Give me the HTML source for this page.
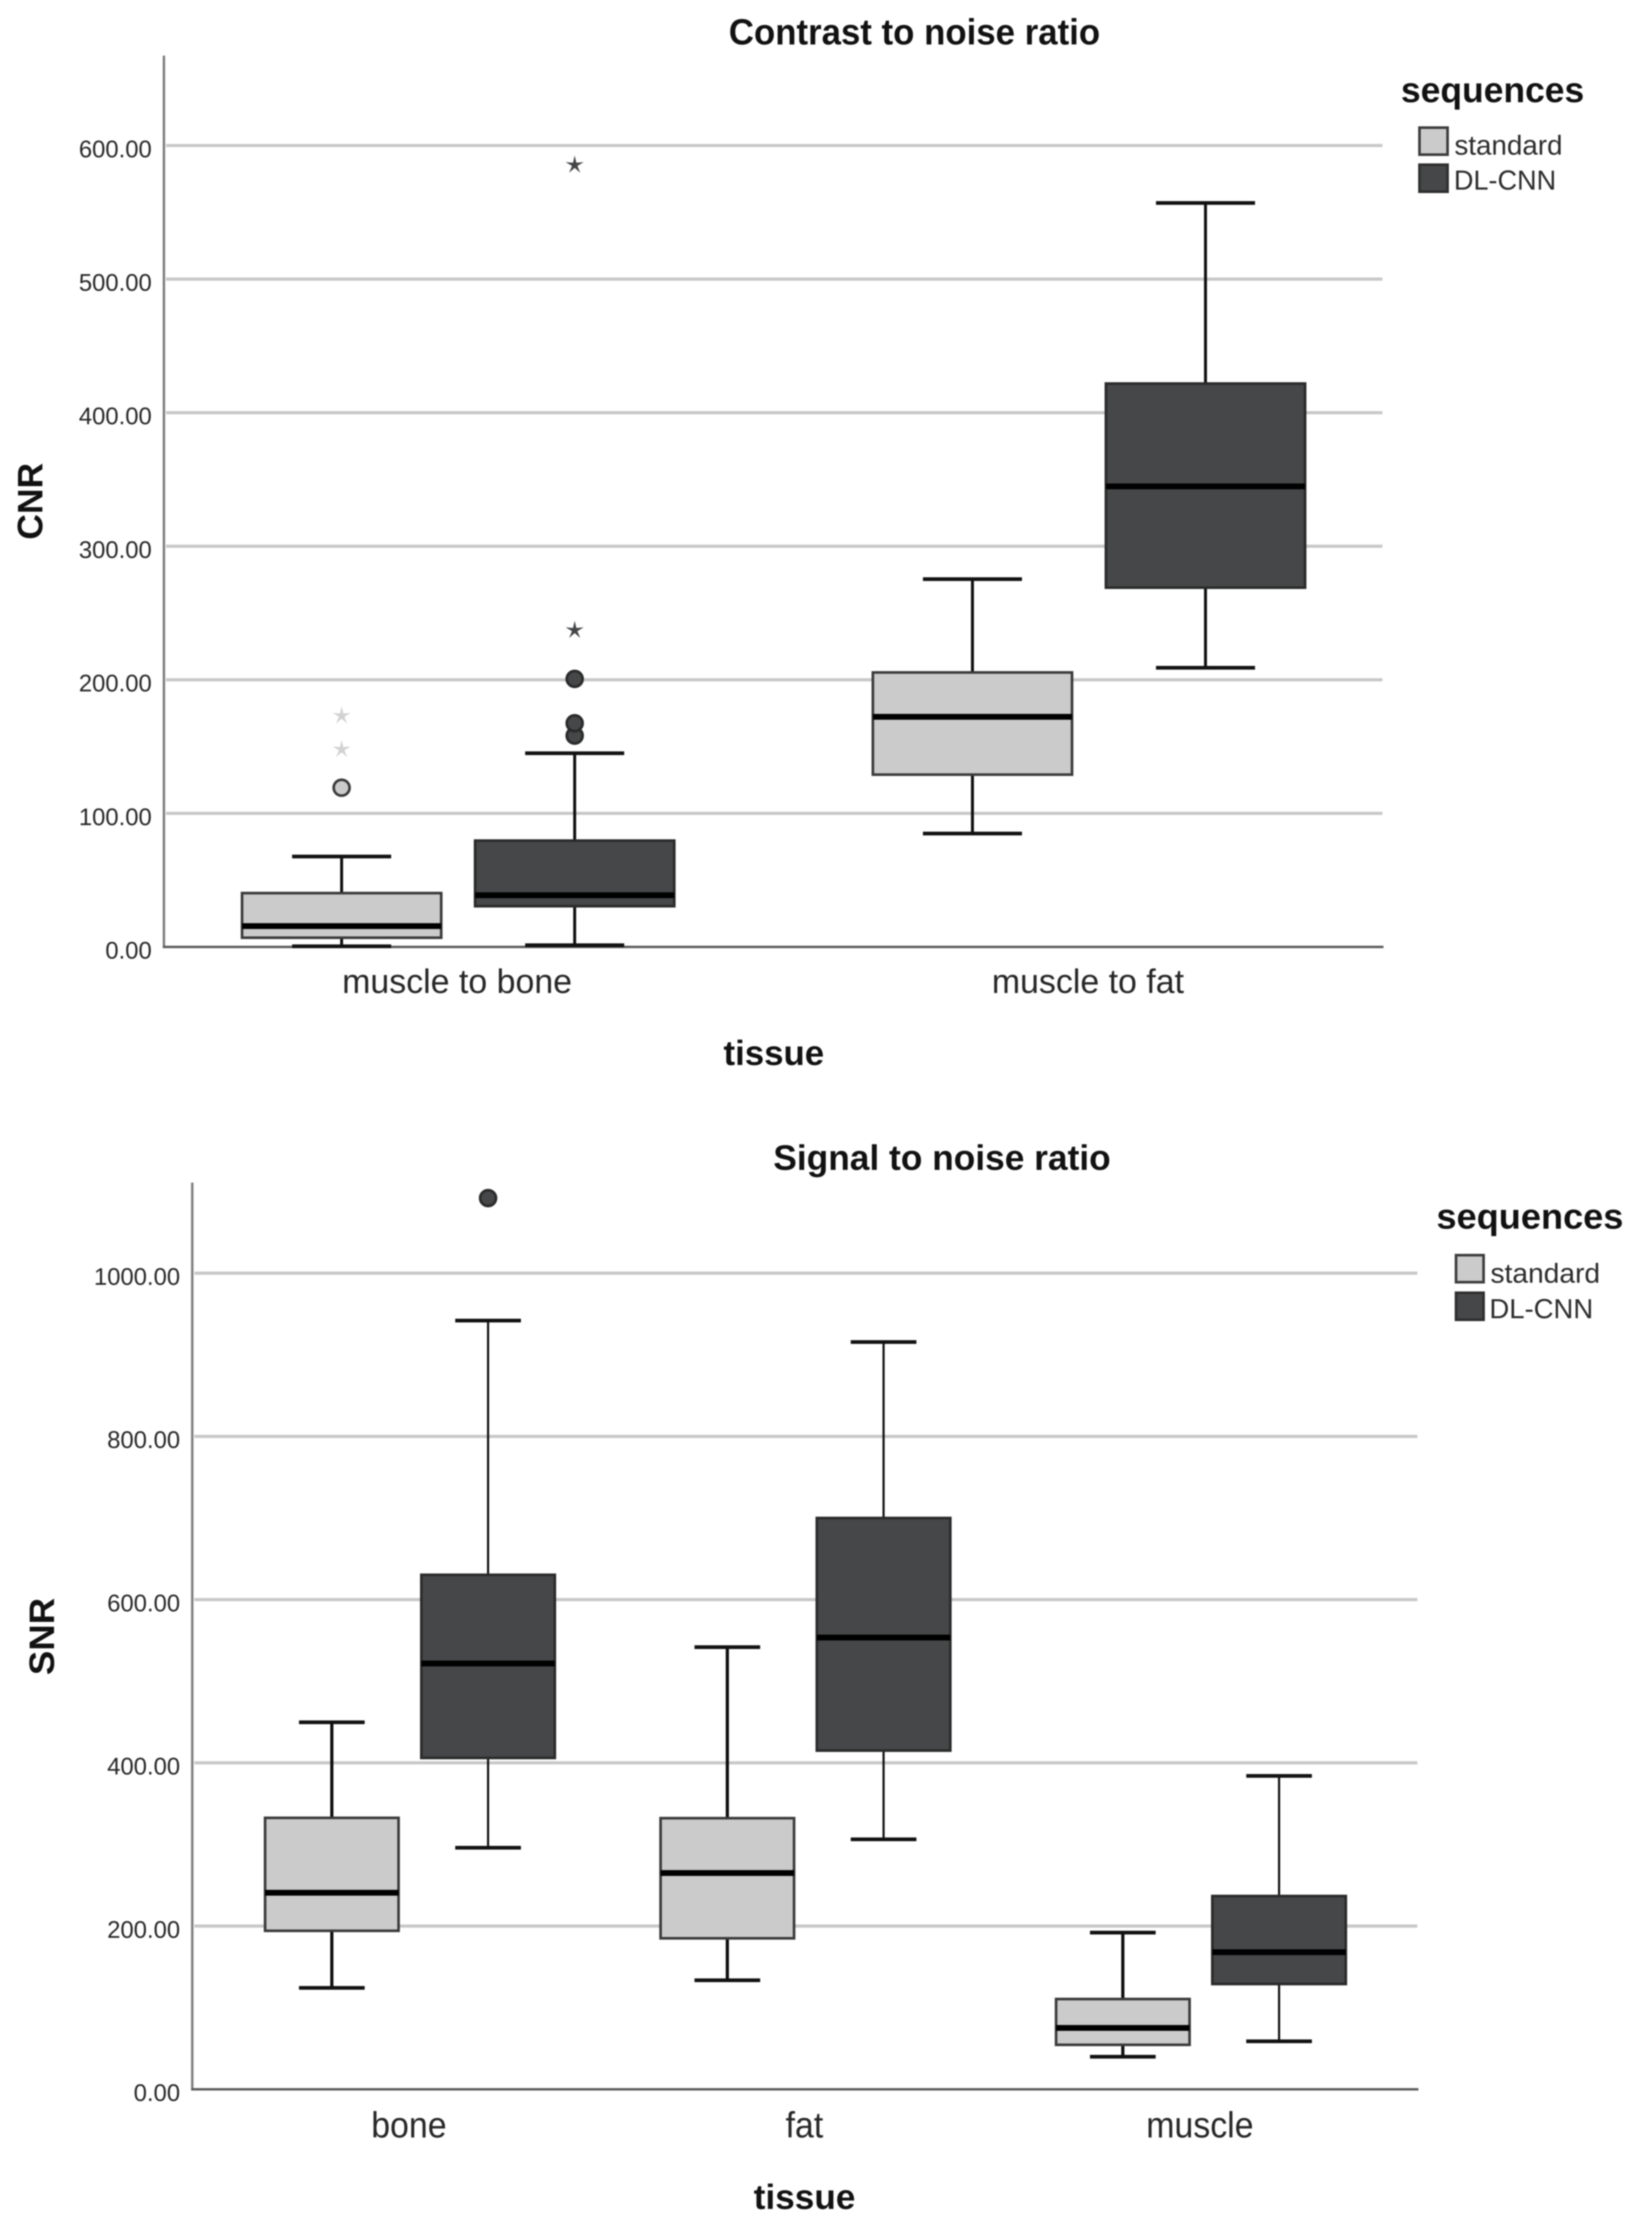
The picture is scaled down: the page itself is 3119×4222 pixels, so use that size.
<!DOCTYPE html>
<html lang="en">
<head>
<meta charset="utf-8">
<title>Contrast and signal to noise ratio box plots</title>
<style>
  html, body { margin: 0; padding: 0; background: #ffffff; }
  svg { display: block; filter: blur(1.4px); }
  text { font-family: "Liberation Sans", sans-serif; }
</style>
</head>
<body>
<svg id="figure" xmlns="http://www.w3.org/2000/svg" width="3119" height="4222" viewBox="0 0 3119 4222">
  <rect x="0" y="0" width="3119" height="4222" fill="#ffffff"/>

  <g id="cnr-chart">
    <text x="1376" y="84" font-size="69" font-weight="700" fill="#111" textLength="701" lengthAdjust="spacingAndGlyphs">Contrast to noise ratio</text>
    <text transform="translate(80,1019) rotate(-90)" font-size="67" font-weight="700" fill="#111" textLength="145" lengthAdjust="spacingAndGlyphs">CNR</text>
    <text x="1366" y="2011" font-size="66" font-weight="700" fill="#111" textLength="190" lengthAdjust="spacingAndGlyphs">tissue</text>
    <g>
      <text x="2645" y="193" font-size="67" font-weight="700" fill="#111" textLength="346" lengthAdjust="spacingAndGlyphs">sequences</text>
      <rect x="2680" y="241" width="53" height="51" fill="#cbcbcb" stroke="#3c3c3c" stroke-width="5"/>
      <text x="2746" y="292" font-size="52" fill="#2b2b2b" textLength="204" lengthAdjust="spacingAndGlyphs">standard</text>
      <rect x="2680" y="311" width="53" height="51" fill="#464748" stroke="#2f2f2f" stroke-width="5"/>
      <text x="2745" y="358" font-size="52" fill="#2b2b2b" textLength="193" lengthAdjust="spacingAndGlyphs">DL-CNN</text>
    </g>
  </g>

  <g id="snr-chart">
    <text x="1460" y="2209" font-size="67" font-weight="700" fill="#111" textLength="637" lengthAdjust="spacingAndGlyphs">Signal to noise ratio</text>
    <text transform="translate(102,3163) rotate(-90)" font-size="67" font-weight="700" fill="#111" textLength="146" lengthAdjust="spacingAndGlyphs">SNR</text>
    <text x="1423" y="4171" font-size="66" font-weight="700" fill="#111" textLength="192" lengthAdjust="spacingAndGlyphs">tissue</text>
    <g>
      <text x="2712" y="2320" font-size="67" font-weight="700" fill="#111" textLength="353" lengthAdjust="spacingAndGlyphs">sequences</text>
      <rect x="2749" y="2370" width="52" height="51" fill="#cbcbcb" stroke="#3c3c3c" stroke-width="5"/>
      <text x="2814" y="2422" font-size="52" fill="#2b2b2b" textLength="207" lengthAdjust="spacingAndGlyphs">standard</text>
      <rect x="2749" y="2441" width="52" height="51" fill="#464748" stroke="#2f2f2f" stroke-width="5"/>
      <text x="2812" y="2489" font-size="52" fill="#2b2b2b" textLength="196" lengthAdjust="spacingAndGlyphs">DL-CNN</text>
    </g>
  </g>
</svg>

<script>
/* ---------- CNR data ---------- */
const cnrCategories = ['muscle to bone', 'muscle to fat'];
const cnrTicks = [0, 100, 200, 300, 400, 500, 600];
const cnrTickLabels = ['0.00', '100.00', '200.00', '300.00', '400.00', '500.00', '600.00'];
const cnrStandardLow = [0.5, 84.9];
const cnrStandardQ1 = [6.9, 129];
const cnrStandardMedian = [15.6, 172.3];
const cnrStandardQ3 = [40.3, 205.5];
const cnrStandardHigh = [67.7, 275.4];
const cnrStandardOutliers = [[119.2], []];
const cnrStandardExtremes = [[147.9, 173], []];
const cnrDlLow = [1.3, 209];
const cnrDlQ1 = [30.5, 269];
const cnrDlMedian = [38.7, 344.8];
const cnrDlQ3 = [79.6, 421.8];
const cnrDlHigh = [145, 557];
const cnrDlOutliers = [[158.2, 167.5, 200.7], []];
const cnrDlExtremes = [[237.1, 585.4], []];

/* ---------- SNR data ---------- */
const snrCategories = ['bone', 'fat', 'muscle'];
const snrTicks = [0, 200, 400, 600, 800, 1000];
const snrTickLabels = ['0.00', '200.00', '400.00', '600.00', '800.00', '1000.00'];
const snrStandardLow = [124.3, 133.6, 39.9];
const snrStandardQ1 = [194.2, 185, 54.5];
const snrStandardMedian = [240.8, 265, 75.2];
const snrStandardQ3 = [332.6, 332.2, 110.6];
const snrStandardHigh = [449.7, 541.8, 192];
const snrStandardOutliers = [[], [], []];
const snrStandardExtremes = [[], [], []];
const snrDlLow = [296, 306.3, 58.8];
const snrDlQ1 = [406, 415, 129];
const snrDlMedian = [521.7, 553.5, 168];
const snrDlQ3 = [630.4, 700, 236.8];
const snrDlHigh = [941.9, 915.6, 384];
const snrDlOutliers = [[1092], [], []];
const snrDlExtremes = [[], [], []];

/* ---------- helpers ---------- */
const NS = 'http://www.w3.org/2000/svg';
function make(tag, props, parent) {
  const el = document.createElementNS(NS, tag);
  for (const k in props) el.setAttribute(k, props[k]);
  parent.appendChild(el);
  return el;
}

const seriesStyle = {
  standard: { fill: '#cbcbcb', stroke: '#3a3a3a', star: '#d2d2d2' },
  dl: { fill: '#464748', stroke: '#2a2a2a', star: '#444546' }
};

function starPoints(cx, cy, r) {
  const pts = [];
  for (let i = 0; i < 10; i++) {
    const rad = i % 2 === 0 ? r : r * 0.3;
    const a = -Math.PI / 2 + i * Math.PI / 5;
    pts.push((cx + rad * Math.cos(a)).toFixed(1) + ',' + (cy + rad * Math.sin(a)).toFixed(1));
  }
  return pts.join(' ');
}

function drawSeries(parent, chart, seriesKey, values, offset) {
  const st = seriesStyle[seriesKey];
  chart.categories.forEach(function (cat, i) {
    const cx = chart.x(i) + offset;
    const halfBox = chart.boxWidth / 2;
    const halfCap = chart.capWidth / 2;

    const group = make('g', {}, parent);
    
    

    const stem = make('line', { x1: cx, x2: cx, y1: chart.y(values.high[i]), y2: chart.y(values.low[i]), stroke: '#0c0c0c', 'stroke-width': chart.stemWidth[seriesKey] }, group);
    
    

    const capHigh = make('line', { x1: cx - halfCap, x2: cx + halfCap, y1: chart.y(values.high[i]), y2: chart.y(values.high[i]), stroke: '#111', 'stroke-width': 7 }, group);
    
    

    const capLow = make('line', { x1: cx - halfCap, x2: cx + halfCap, y1: chart.y(values.low[i]), y2: chart.y(values.low[i]), stroke: '#111', 'stroke-width': 7 }, group);
    
    

    const box = make('rect', { x: cx - halfBox, width: chart.boxWidth, y: chart.y(values.q3[i]), height: chart.y(values.q1[i]) - chart.y(values.q3[i]), fill: st.fill, stroke: st.stroke, 'stroke-width': 5 }, group);
    
    

    const median = make('line', { x1: cx - halfBox, x2: cx + halfBox, y1: chart.y(values.median[i]), y2: chart.y(values.median[i]), stroke: '#000', 'stroke-width': 11 }, group);
    
    

    values.outliers[i].forEach(function (v) {
      const dot = make('circle', { cx: cx, cy: chart.y(v), r: 15, fill: st.fill, stroke: st.stroke, 'stroke-width': 5 }, group);
      
      
    });

    values.extremes[i].forEach(function (v) {
      const star = make('polygon', { points: starPoints(cx, chart.y(v), 18), fill: st.star }, group);
      
      
    });
  });
}

function drawChart(rootId, chart, standard, dl) {
  const root = document.getElementById(rootId);
  const plot = make('g', {}, root);
  
  

  chart.ticks.forEach(function (t, i) {
    if (t !== 0) {
      const grid = make('line', { x1: chart.axisX + 4, x2: chart.right, y1: chart.y(t), y2: chart.y(t), stroke: '#c8c8c8', 'stroke-width': 6 }, plot);
      
      
    }
    const label = make('text', { x: chart.axisX - 23, y: chart.y(t) + 22, 'text-anchor': 'end', 'font-size': 45, fill: '#262626' }, plot);
    label.textContent = chart.tickLabels[i];
    
    
  });

  const yAxis = make('line', { x1: chart.axisX, x2: chart.axisX, y1: chart.axisTop, y2: chart.y(0) + 2, stroke: '#7c7c7c', 'stroke-width': 4.5 }, plot);
  
  

  const xAxis = make('line', { x1: chart.axisX - 2, x2: chart.right + 2, y1: chart.y(0), y2: chart.y(0), stroke: '#5a5a5a', 'stroke-width': 4.5 }, plot);
  
  

  chart.categories.forEach(function (cat, i) {
    const cl = make('text', { transform: 'translate(' + (chart.x(i) - 2) + ',' + chart.labelY + ') scale(1,' + chart.labelScaleY + ')', 'text-anchor': 'middle', 'font-size': 64, fill: '#262626' }, plot);
    cl.textContent = cat;
    
    
  });

  drawSeries(plot, chart, 'standard', standard, -chart.offset);
  drawSeries(plot, chart, 'dl', dl, chart.offset);
}

/* ---------- axis functions ---------- */
function cnrY(v) { return 1788 - v * 2.522; }
function cnrX(i) { return 865 + i * 1191; }
function snrY(v) { return 3945 - v * 1.541; }
function snrX(i) { return 774 + i * 746.7; }

drawChart('cnr-chart', {
  categories: cnrCategories, ticks: cnrTicks, tickLabels: cnrTickLabels,
  x: cnrX, y: cnrY, axisX: 309.5, axisTop: 105, right: 2610,
  offset: 220, boxWidth: 376, capWidth: 187,
  stemWidth: { standard: 5.5, dl: 5.5 }, labelY: 1875, labelScaleY: 1.0
}, {
  low: cnrStandardLow, q1: cnrStandardQ1, median: cnrStandardMedian, q3: cnrStandardQ3, high: cnrStandardHigh,
  outliers: cnrStandardOutliers, extremes: cnrStandardExtremes
}, {
  low: cnrDlLow, q1: cnrDlQ1, median: cnrDlMedian, q3: cnrDlQ3, high: cnrDlHigh,
  outliers: cnrDlOutliers, extremes: cnrDlExtremes
});

drawChart('snr-chart', {
  categories: snrCategories, ticks: snrTicks, tickLabels: snrTickLabels,
  x: snrX, y: snrY, axisX: 363, axisTop: 2233, right: 2676,
  offset: 147.5, boxWidth: 252, capWidth: 124,
  stemWidth: { standard: 6, dl: 4 }, labelY: 4036, labelScaleY: 1.08
}, {
  low: snrStandardLow, q1: snrStandardQ1, median: snrStandardMedian, q3: snrStandardQ3, high: snrStandardHigh,
  outliers: snrStandardOutliers, extremes: snrStandardExtremes
}, {
  low: snrDlLow, q1: snrDlQ1, median: snrDlMedian, q3: snrDlQ3, high: snrDlHigh,
  outliers: snrDlOutliers, extremes: snrDlExtremes
});
</script>
</body>
</html>
